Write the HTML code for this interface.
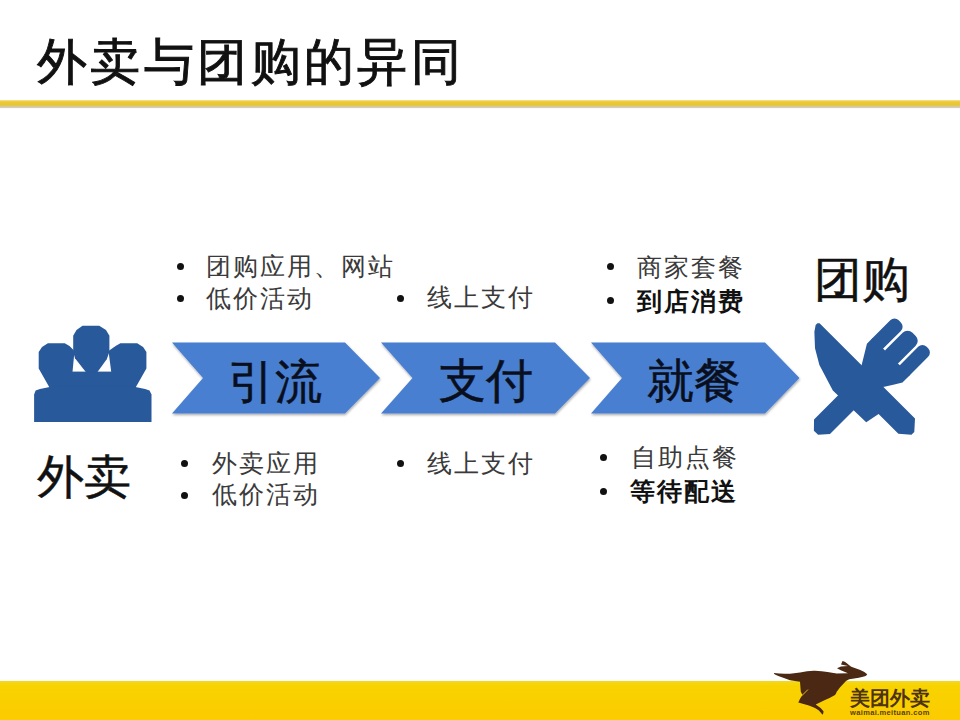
<!DOCTYPE html>
<html><head><meta charset="utf-8">
<style>
html,body{margin:0;padding:0;background:#fff;}
body{width:960px;height:720px;position:relative;overflow:hidden;font-family:"Liberation Sans",sans-serif;}
.t{position:absolute;white-space:nowrap;line-height:1;}
.s{font-size:25px;letter-spacing:2px;color:#3a3a3a;}
.sb{font-size:25px;letter-spacing:2px;color:#111;font-weight:bold;}
.c{font-size:47px;color:#0a0f1e;-webkit-text-stroke:0.5px #0a0f1e;}
.b{position:absolute;width:7px;height:7px;border-radius:50%;background:#111;}
svg{position:absolute;left:0;top:0;}
</style></head><body>
<svg width="960" height="720" viewBox="0 0 960 720">
  <defs>
    <linearGradient id="hl" x1="0" y1="0" x2="0" y2="1">
      <stop offset="0" stop-color="#fbe3a0"/>
      <stop offset="0.2" stop-color="#edca3a"/>
      <stop offset="0.55" stop-color="#e6c72c"/>
      <stop offset="0.75" stop-color="#ddc97a"/>
      <stop offset="0.88" stop-color="#d2c8d4"/>
      <stop offset="1" stop-color="#f4f4f8"/>
    </linearGradient>
    <filter id="sh" x="-5%" y="-10%" width="110%" height="130%">
      <feDropShadow dx="0.5" dy="1.5" stdDeviation="0.8" flood-color="#000" flood-opacity="0.35"/>
    </filter>
    <linearGradient id="bb" x1="0" y1="0" x2="0" y2="1">
      <stop offset="0" stop-color="#f2d820"/>
      <stop offset="0.12" stop-color="#f8d300"/>
      <stop offset="1" stop-color="#fccb00"/>
    </linearGradient>
  </defs>
  <!-- header line -->
  <rect x="0" y="100" width="960" height="8.5" fill="url(#hl)"/>
  <!-- bottom band -->
  <rect x="0" y="681" width="960" height="39" fill="url(#bb)"/>
  <!-- chevrons -->
  <g fill="#4a7fd0" filter="url(#sh)">
  <polygon points="172,342.5 345,342.5 380,378 345,413.5 172,413.5 203,378"/>
  <polygon points="381,342.5 555,342.5 590,378 555,413.5 381,413.5 412.5,378"/>
  <polygon points="591,342.5 765,342.5 799.5,378 765,413.5 591,413.5 622,378"/>
  </g>
  <!-- people icon -->
  <g fill="#28599b">
    <polygon points="47.9,343.2 64.7,343.2 69.5,346 74.5,351 72.5,372 72.5,390 50.9,390 38.7,368.4 38.7,352 42,347"/>
    <polygon points="137.2,343.2 120.4,343.2 115.6,346 108.5,351 111.25,372 111.25,390 134.2,390 146.4,368.4 146.4,352 143.1,347"/>
    <polygon points="82.5,325.8 99.2,325.8 106,330 109.4,335.8 109.4,352 106.7,359.2 97.5,372 85.8,372 75,358.3 73.2,352 73.2,335.8 76.5,330"/>
    <rect x="72" y="371.6" width="40" height="19"/>
    <polygon points="34.1,422 34.1,394.4 35.6,390.5 40,389 50.9,386.7 134.2,386.7 145.1,389 149.5,390.5 151.5,394.4 151.5,422"/>
  </g>
  <!-- fork & knife -->
  <g fill="#28599b">
    <g transform="matrix(0.70711,-0.70711,0.70711,0.70711,0,0)">
      <polygon points="271,880 279,872.2 340,872.2 351,867.5 370,856 378,856 378,908.6 367.7,908.6 360.6,904.2 351.9,898.8 345,893.8 280,893.8 271,886"/>
      <rect x="372" y="856" width="37" height="15" rx="6"/>
      <rect x="372" y="873.5" width="38" height="18.5" rx="7"/>
      <rect x="372" y="894.5" width="38" height="14.1" rx="6"/>
    </g>
    <g transform="matrix(0.70711,0.70711,0.70711,-0.70711,0,0)">
      <polygon points="806.5,349.5 808,351 943,351 952,341 952,337 942,328.5 914,328.5 911,314 865,312.8 837.5,321.3 822.6,330 810.4,341.3 806.5,347"/>
    </g>
  </g>
  <!-- kangaroo -->
  <path fill="#4b2813" d="M773.9,673 Q779,673.6 784.6,673.8 L790,673.75 L800,672.5 Q808,670.6 815,670.8 Q822,671 827.5,672 L836.7,673.5 L848,673.2 L840.8,670.3 L837,668.3 L841,666.5 L848,666 L841,664.6 L842.5,661 Q845,661.5 846.5,663 Q849,665 851.25,666.7 L860.3,670.1 Q865,672 867.2,674.3 Q866.5,676 865,676.3 L858.9,677.8 L849.2,679.2 L846,681 Q840,687 836.7,691.7 Q836,694 835,695 Q830,698 825,700 L815.7,704.5 Q820.6,707.4 823.5,711.3 Q823.6,713.5 822.5,714.7 Q820,711.5 818.6,710.3 Q814,707 808.9,705.4 L798.3,702.5 Q800,698 802.5,695 L800.8,691.7 L800,681.7 Q795,681 790,680.2 L784.6,678.2 Q779,676.5 776,675 Q773.5,674 773.9,673 Z"/>
  <path d="M807.9,689.6 L801.7,695.8" stroke="#f0c818" stroke-width="0.9" fill="none"/>
</svg>
<div class="t" style="left:37px;top:37px;font-size:50px;letter-spacing:3.4px;color:#111;-webkit-text-stroke:0.9px #111">外卖与团购的异同</div>
<div class="t c" style="left:228px;top:357.5px;">引流</div>
<div class="t c" style="left:439px;top:357px;">支付</div>
<div class="t c" style="left:647px;top:357px;">就餐</div>
<div class="t" style="left:36.5px;top:453px;font-size:47px;color:#111;-webkit-text-stroke:0.5px #111">外卖</div>
<div class="t" style="left:813.5px;top:256px;font-size:48px;color:#111;-webkit-text-stroke:0.5px #111">团购</div>

<div class="b" style="left:176.5px;top:263px"></div>
<div class="t s" style="left:206px;top:254px;">团购应用、网站</div>
<div class="b" style="left:176.5px;top:294.5px"></div>
<div class="t s" style="left:206px;top:286px;">低价活动</div>
<div class="b" style="left:396.5px;top:294.5px"></div>
<div class="t s" style="left:427px;top:285px;">线上支付</div>
<div class="b" style="left:606.5px;top:262.5px"></div>
<div class="t s" style="left:637px;top:255px;">商家套餐</div>
<div class="b" style="left:606.5px;top:296.5px"></div>
<div class="t sb" style="left:637px;top:289px;">到店消费</div>

<div class="b" style="left:181px;top:460px"></div>
<div class="t s" style="left:211.5px;top:451px;">外卖应用</div>
<div class="b" style="left:181px;top:491.5px"></div>
<div class="t s" style="left:211.5px;top:482px;">低价活动</div>
<div class="b" style="left:396.5px;top:460px"></div>
<div class="t s" style="left:427px;top:451px;">线上支付</div>
<div class="b" style="left:600px;top:453.5px"></div>
<div class="t s" style="left:630.5px;top:445px;">自助点餐</div>
<div class="b" style="left:600px;top:487.5px"></div>
<div class="t sb" style="left:630px;top:479px;">等待配送</div>

<div class="t" style="left:850px;top:687.5px;font-size:20px;font-weight:bold;color:#4e3310;letter-spacing:0px">美团外卖</div>
<div class="t" style="left:850px;top:709px;font-size:7.5px;color:#5a4010;letter-spacing:0.35px;font-weight:bold">waimai.meituan.com</div>
</body></html>
